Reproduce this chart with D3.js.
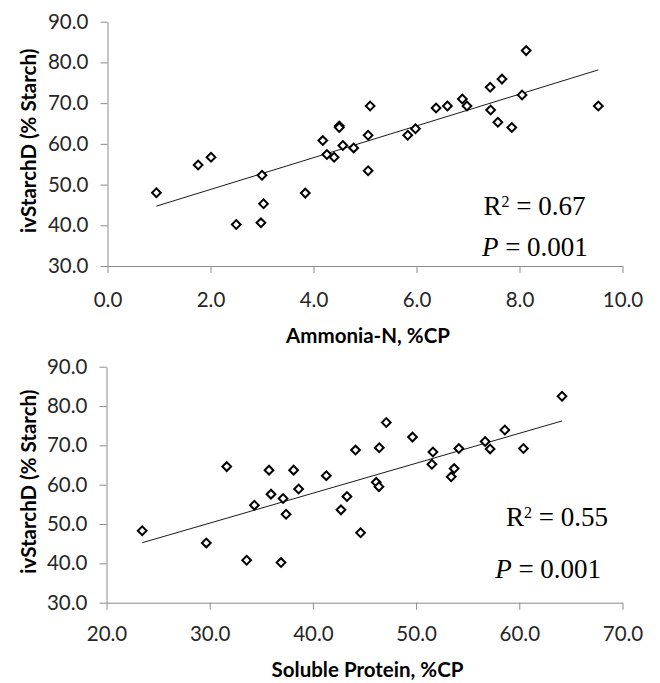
<!DOCTYPE html>
<html>
<head>
<meta charset="utf-8">
<script src="https://cdn.jsdelivr.net/npm/d3@7"></script>
<style>
  body { margin: 0; background: #fff; }
  .tick text { font-family: Lato, "Open Sans", sans-serif; font-size: 20.5px; fill: #262626; }
  .axis-title { font-family: Lato, "Open Sans", sans-serif; font-size: 20.5px; font-weight: bold; fill: #000; }
  .stat { font-family: "Liberation Serif", "Times New Roman", serif; font-size: 27px; fill: #000; }
</style>
</head>
<body>
<div id="chart"></div>
<script>
// top panel: ammonia-N (%CP) vs ivStarchD
var ammoniaN = [0.95, 1.76, 2.01, 2.50, 2.98, 3.03, 3.00, 3.84, 4.18, 4.26, 4.40, 4.50, 4.50, 4.57, 4.78, 5.06,
                5.06, 5.10, 5.83, 5.98, 6.38, 6.60, 6.89, 6.98, 7.43, 7.44, 7.58, 7.66, 7.85, 8.05, 8.13, 9.53];
var starchA = [48.0, 54.8, 56.7, 40.2, 40.6, 45.3, 52.3, 47.9, 60.8, 57.4, 56.7, 64.4, 64.0, 59.6, 59.0, 53.4,
               62.1, 69.3, 62.1, 63.7, 68.8, 69.3, 71.0, 69.3, 73.9, 68.3, 65.3, 75.9, 64.0, 72.0, 82.9, 69.3];

// bottom panel: soluble protein (%CP) vs ivStarchD
var solubleProtein = [23.46, 29.67, 31.65, 33.58, 34.33, 35.75, 35.94, 36.91, 37.11, 37.40, 38.13, 38.62, 41.30, 42.72, 43.30, 44.13,
                      44.62, 46.14, 46.40, 46.43, 47.11, 49.65, 51.53, 51.63, 53.40, 53.69, 54.14, 56.69, 57.17, 58.60, 60.40, 64.14];
var starchB = [48.3, 45.2, 64.6, 40.8, 54.8, 63.7, 57.6, 40.2, 56.5, 52.5, 63.7, 58.9, 62.3, 53.6, 57.0, 68.8,
               47.8, 60.6, 59.5, 69.4, 75.8, 72.1, 65.2, 68.3, 62.0, 64.1, 69.2, 71.0, 69.1, 73.9, 69.2, 82.5];

// linear trend: [intercept, slope]
var trendA = [41.0, 3.90];
var trendB = [27.4, 0.761];

var xTicksA = [0, 2, 4, 6, 8, 10];
var xTicksB = [20, 30, 40, 50, 60, 70];
var yTicks = [30, 40, 50, 60, 70, 80, 90];

var yTitle = "ivStarchD (% Starch)";
var xTitleA = "Ammonia-N, %CP";
var xTitleB = "Soluble Protein, %CP";

// stat labels: [R2 value, P value], placed at data coords
var statsA = ["0.67", "0.001"];
var statsB = ["0.55", "0.001"];
var statPosA = [[7.30, 42.5], [7.27, 32.45]];
var statPosB = [[58.72, 49.5], [57.66, 36.2]];

var svg = d3.select("#chart").append("svg")
    .attr("width", 660)
    .attr("height", 683);

function drawPanel(p) {
    var xScale = d3.scaleLinear().domain(d3.extent(p.xTicks)).range([p.left, p.right]);
    var yScale = d3.scaleLinear().domain([30, 90]).range([p.bottom, p.top]);

    var xAxis = d3.axisBottom(xScale).tickValues(p.xTicks).tickFormat(d3.format(".1f"))
        .tickSizeInner(7).tickSizeOuter(0).tickPadding(p.xPad);
    var yAxis = d3.axisLeft(yScale).tickValues(yTicks).tickFormat(d3.format(".1f"))
        .tickSizeInner(7).tickSizeOuter(0).tickPadding(12);

    var gx = svg.append("g")
        .attr("transform", `translate(0, ${p.bottom})`)
        .call(xAxis);
    var gy = svg.append("g")
        .attr("transform", `translate(${p.left}, 0)`)
        .call(yAxis);
    [gx, gy].forEach(function(g) {
        g.select(".domain").attr("stroke", "#8c8c8c");
        g.selectAll(".tick line").attr("stroke", "#8c8c8c");
    });

    // trend line over the x range of the data
    var xmin = d3.min(p.xs), xmax = d3.max(p.xs);
    svg.append("line")
        .attr("x1", xScale(xmin))
        .attr("y1", yScale(p.trend[0] + p.trend[1] * xmin))
        .attr("x2", xScale(xmax))
        .attr("y2", yScale(p.trend[0] + p.trend[1] * xmax))
        .attr("stroke", "#1a1a1a")
        .attr("stroke-width", 1);

    // diamond markers
    var pts = p.xs.map(function(x, i) { return {x: x, y: p.ys[i]}; });
    svg.append("g").selectAll("path")
        .data(pts)
        .enter()
        .append("path")
        .attr("d", d3.symbol(d3.symbolSquare, 38))
        .attr("transform", d => `translate(${xScale(d.x)}, ${yScale(d.y)}) rotate(45)`)
        .attr("fill", "#fff")
        .attr("stroke", "#000")
        .attr("stroke-width", 2);

    // axis titles
    svg.append("text")
        .attr("class", "axis-title")
        .attr("transform", "rotate(-90)")
        .attr("x", -(p.top + p.bottom) / 2 + 3)
        .attr("y", 36)
        .attr("text-anchor", "middle")
        .text(yTitle);

    svg.append("text")
        .attr("class", "axis-title")
        .attr("x", (p.left + p.right) / 2 + 3)
        .attr("y", p.bottom + p.titleOffset)
        .attr("text-anchor", "middle")
        .text(p.xTitle);

    // R2 and P
    var r2 = svg.append("text")
        .attr("class", "stat")
        .attr("x", xScale(p.statPos[0][0]))
        .attr("y", yScale(p.statPos[0][1]));
    r2.append("tspan").text("R");
    r2.append("tspan").attr("font-size", 16).attr("dy", -8).text("2");
    r2.append("tspan").attr("dy", 8).text(" = " + p.stats[0]);

    var pv = svg.append("text")
        .attr("class", "stat")
        .attr("x", xScale(p.statPos[1][0]))
        .attr("y", yScale(p.statPos[1][1]));
    pv.append("tspan").attr("font-style", "italic").text("P");
    pv.append("tspan").text(" = " + p.stats[1]);
}

drawPanel({
    xs: ammoniaN, ys: starchA, trend: trendA, xTicks: xTicksA, xTitle: xTitleA,
    stats: statsA, statPos: statPosA, xPad: 19,
    left: 107.5, right: 622.5, top: 21.7, bottom: 266, titleOffset: 77
});

drawPanel({
    xs: solubleProtein, ys: starchB, trend: trendB, xTicks: xTicksB, xTitle: xTitleB,
    stats: statsB, statPos: statPosB, xPad: 17,
    left: 106.5, right: 622.5, top: 366.7, bottom: 602.7, titleOffset: 74
});
</script>
</body>
</html>
